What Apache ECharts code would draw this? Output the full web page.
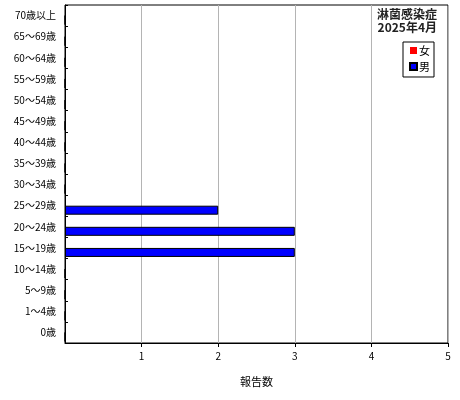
<!DOCTYPE html>
<html><head><meta charset="utf-8">
<script src="https://cdn.jsdelivr.net/npm/echarts@6/dist/echarts.min.js"></script>
<style>html,body{margin:0;padding:0;background:#fff}#c{width:460px;height:400px}</style>
</head><body><div id="c"></div>
<script>
const categories = ['0歳','1～4歳','5～9歳','10～14歳','15～19歳','20～24歳','25～29歳','30～34歳','35～39歳','40～44歳','45～49歳','50～54歳','55～59歳','60～64歳','65～69歳','70歳以上'];
const female = [0,0,0,0,0,0,0,0,0,0,0,0,0,0,0,0];
const male   = [0,0,0,0,3,3,2,0,0,0,0,0,0,0,0,0];
const xTicks = [0,1,2,3,4,5];
const titleLines = ['淋菌感染症','2025年4月'];
const FONT = '"Noto Sans CJK JP", sans-serif';
const chart = echarts.init(document.getElementById('c'));
const tStyle = {fontFamily: FONT, fontSize: 12, fontWeight: 'bold', color: '#222'};
chart.setOption({
  animation: false,
  backgroundColor: '#fff',
  textStyle: {fontFamily: FONT},
  title: [
    {text: titleLines[0], right: 23, top: 8, padding: 0, textStyle: tStyle},
    {text: titleLines[1], right: 23, top: 21, padding: 0, textStyle: tStyle}
  ],
  legend: {
    data: ['女','男'],
    orient: 'vertical',
    right: 26, top: 42,
    itemWidth: 7, itemHeight: 7, itemGap: 5,
    icon: 'rect',
    padding: [3, 4, 5, 6],
    borderColor: '#000', borderWidth: 1, backgroundColor: '#fff',
    textStyle: {fontFamily: FONT, fontSize: 11, color: '#000', padding: [0,0,0,-3]}
  },
  grid: {left: 65, right: 12, top: 5, bottom: 57, show: true, borderColor: '#000', borderWidth: 1, backgroundColor: 'transparent'},
  xAxis: {
    type: 'value', min: xTicks[0], max: xTicks[xTicks.length-1], interval: 1,
    name: '報告数', nameLocation: 'middle', nameGap: 33,
    nameTextStyle: {fontFamily: FONT, fontSize: 11, color: '#000'},
    axisLine: {show: true, lineStyle: {color: '#000'}},
    axisTick: {show: true, length: 4, lineStyle: {color: '#000'}},
    axisLabel: {showMinLabel: false, fontFamily: FONT, fontSize: 10, color: '#000', margin: 8},
    splitLine: {show: true, lineStyle: {color: '#b4b4b4'}}
  },
  yAxis: {
    type: 'category', data: categories,
    axisLine: {show: true, lineStyle: {color: '#000'}},
    axisTick: {show: true, inside: true, length: 3, lineStyle: {color: '#000'}},
    axisLabel: {fontFamily: FONT, fontSize: 10, color: '#000', margin: 9},
    splitLine: {show: false}
  },
  series: [
    {name: '女', type: 'bar', data: female, barWidth: 9, barGap: '0%',
     itemStyle: {color: '#ff0000', borderColor: '#000', borderWidth: 0}},
    {name: '男', type: 'bar', data: male, barWidth: 9, barGap: '0%',
     itemStyle: {color: '#0000ff', borderColor: '#000', borderWidth: 1}}
  ]
});
</script></body></html>
